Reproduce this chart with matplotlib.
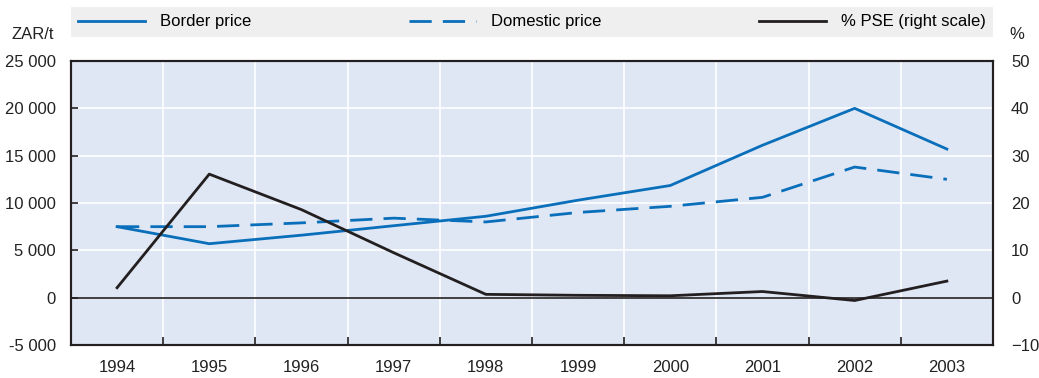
import matplotlib.pyplot as plt
import numpy as np

plt.rcParams['font.family'] = ['Liberation Sans Narrow', 'Liberation Sans', 'DejaVu Sans']
plt.rcParams['font.size'] = 12

years = ["1994", "1995", "1996", "1997", "1998", "1999", "2000", "2001", "2002", "2003"]
border_price = [7500, 5700, 6600, 7600, 8600, 10300, 11850, 16100, 20000, 15700]
domestic_price = [7500, 7500, 7900, 8400, 8000, 9000, 9650, 10600, 13800, 12500]
pse_pct = [2.1, 26.1, 18.6, 9.5, 0.7, 0.5, 0.4, 1.3, -0.6, 3.5]

BLUE = "#0a6fba"
DARK = "#231f20"
BG = "#dfe6f4"

fig = plt.figure(figsize=(10.39, 3.78), dpi=100)
ax = fig.add_axes([0.0683, 0.0873, 0.8874, 0.7513])
ax2 = ax.twinx()

x = np.arange(len(years))
ax.set_facecolor(BG)
l1, = ax.plot(x, border_price, color=BLUE, lw=2, label="Border price")
l2, = ax.plot(x, domestic_price, color=BLUE, lw=2, ls=(0, (8, 4)), label="Domestic price")
l3, = ax2.plot(x, pse_pct, color=DARK, lw=2, label="% PSE (right scale)")

ax.set_xlim(-0.5, len(years) - 0.5)
ax.set_ylim(-5000, 25000)
ax2.set_ylim(-10, 50)

yt = np.arange(-5000, 25001, 5000)
ax.set_yticks(yt)
ax.set_yticklabels([f"{v:,}".replace(",", " ") for v in yt])
ax2.set_yticks(np.arange(-10, 51, 10))

# white grid at category boundaries and left-axis steps
for b in np.arange(0.5, len(years) - 1, 1):
    ax.axvline(b, color="white", lw=1.2, zorder=0.5)
for v in yt[1:-1]:
    ax.axhline(v, color="white", lw=1.2, zorder=0.5)
ax.axhline(0, color=DARK, lw=1.2, zorder=1)

ax.set_xticks(x)
ax.set_xticklabels(years)
ax.set_xticks(np.arange(0.5, len(years) - 1, 1), minor=True)
ax.tick_params(axis="x", which="major", length=0, pad=11)
ax.tick_params(axis="x", which="minor", direction="in", length=6, width=1.2, color=DARK)
ax.tick_params(axis="y", direction="in", length=5, width=1.2, color=DARK, pad=11)
ax2.tick_params(axis="y", direction="in", length=0, pad=13)

for a in (ax, ax2):
    for s in a.spines.values():
        s.set_color(DARK)
        s.set_linewidth(1.5)
    a.tick_params(labelcolor="#222222", which="both", labelsize=12)

fig.text(0.0683 - 0.016, 0.91, "ZAR/t", ha="right", va="center", fontsize=12, color="#222222")
fig.text(0.9557 + 0.016, 0.91, "%", ha="left", va="center", fontsize=12, color="#222222")

leg = ax.legend(handles=[l1, l2, l3], ncol=3, mode="expand",
                bbox_to_anchor=(0, 1.085, 1, 0.105), loc="lower left",
                borderaxespad=0, borderpad=0.45, frameon=True, fancybox=False,
                handlelength=4.0, handletextpad=0.9, fontsize=12)
leg.get_frame().set_facecolor("#ebebeb")
leg.get_frame().set_edgecolor("none")

fig.savefig("out.png", dpi=100)
